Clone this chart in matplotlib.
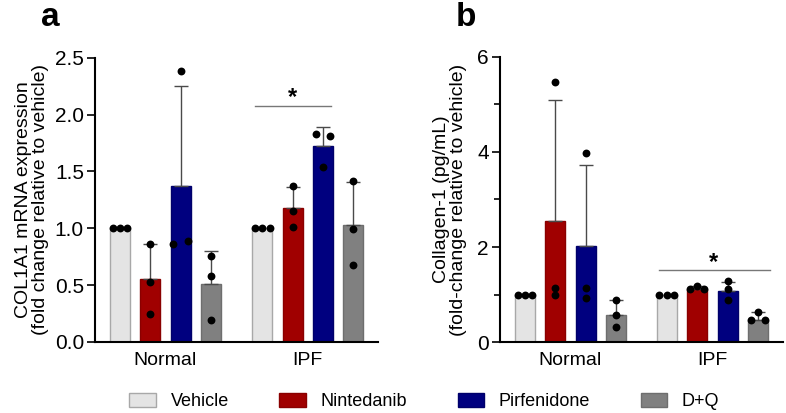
import numpy as np
import matplotlib.pyplot as plt
from matplotlib.patches import Patch
from matplotlib.ticker import MultipleLocator

plt.rcParams['font.family'] = ['Liberation Sans', 'DejaVu Sans']

groups = ["Normal", "IPF"]
treatments = ["Vehicle", "Nintedanib", "Pirfenidone", "D+Q"]
colors = ["#e4e4e4", "#a00000", "#00007f", "#808080"]
edges = ["#a8a8a8", "#8a0000", "#00006a", "#6e6e6e"]

# panel a: COL1A1 mRNA (group x treatment)
col1a1_mean = [[1.0, 0.55, 1.37, 0.51],
               [1.0, 1.18, 1.72, 1.03]]
col1a1_err = [[0.0, 0.31, 0.88, 0.29],
              [0.0, 0.18, 0.17, 0.38]]
col1a1_pts = [[[1.0, 1.0, 1.0], [0.86, 0.53, 0.25], [2.38, 0.86, 0.89], [0.76, 0.58, 0.19]],
              [[1.0, 1.0, 1.0], [1.37, 1.15, 1.01], [1.83, 1.81, 1.54], [1.42, 0.99, 0.68]]]

# panel b: Collagen-1 protein
coll_mean = [[1.0, 2.55, 2.02, 0.58],
             [1.0, 1.13, 1.08, 0.48]]
coll_err = [[0.0, 2.54, 1.71, 0.30],
            [0.0, 0.05, 0.19, 0.16]]
coll_pts = [[[1.0, 1.0, 1.0], [5.47, 1.15, 1.0], [3.98, 1.15, 0.94], [0.88, 0.57, 0.32]],
            [[1.0, 1.0, 1.0], [1.12, 1.18, 1.12], [1.28, 1.12, 0.88], [0.64, 0.47, 0.47]]]


def swarm(vals, ytol):
    # points close in y get spread sideways (left / centre / right)
    vals = np.asarray(vals)
    order = np.argsort(vals, kind='stable')
    offs = np.zeros(len(vals))
    clusters = [[order[0]]]
    for i in order[1:]:
        if abs(vals[i] - vals[clusters[-1][-1]]) < ytol:
            clusters[-1].append(i)
        else:
            clusters.append([i])
    for c in clusters:
        c = sorted(c)
        if len(c) == 2:
            pos = [-1, 1]
        elif len(c) == 3:
            pos = [-1, 0, 1]
        else:
            pos = [0]
        for i, p in zip(c, pos):
            offs[i] = p
    return offs


def panel(ax, means, errs, pts, gap, ytol, ylim):
    for g in range(2):
        for t in range(4):
            x = g * gap + t
            ax.bar(x, means[g][t], width=0.66, color=colors[t], edgecolor=edges[t],
                   linewidth=1.0, zorder=2)
            if errs[g][t] > 0:
                ax.errorbar(x, means[g][t], yerr=[[0], [errs[g][t]]], fmt='none',
                            ecolor="#4a4a4a", elinewidth=1.0, capsize=5, capthick=1.0, zorder=3)
            offs = swarm(pts[g][t], ytol)
            ax.scatter(x + offs * 0.24, pts[g][t], s=32, color="black", zorder=4,
                       linewidths=0)
    ax.set_xticks([1.5, gap + 1.5])
    ax.set_xticklabels(groups, fontsize=14)
    ax.tick_params(axis='x', length=0, pad=7)
    ax.tick_params(axis='y', labelsize=15, length=6, width=1.2, direction='out', pad=2)
    ax.set_ylim(*ylim)
    ax.set_xlim(-0.82, gap + 3.82)
    for s in ["top", "right"]:
        ax.spines[s].set_visible(False)
    for s in ["left", "bottom"]:
        ax.spines[s].set_linewidth(1.5)


fig = plt.figure(figsize=(7.86, 4.13), dpi=100)
ax1 = fig.add_axes([0.121, 0.172, 0.36, 0.688])
ax2 = fig.add_axes([0.636, 0.171, 0.36, 0.692])

panel(ax1, col1a1_mean, col1a1_err, col1a1_pts, 4.7, 0.06, (0, 2.5))
ax1.yaxis.set_major_locator(MultipleLocator(0.5))
ax1.yaxis.set_major_formatter(plt.FormatStrFormatter('%.1f'))
ax1.set_ylabel("COL1A1 mRNA expression\n(fold change relative to vehicle)", fontsize=14,
               linespacing=1.0, labelpad=4)
ax1.plot([4.45, 6.95], [2.08, 2.08], color="#777777", lw=1.0, clip_on=False)
ax1.text(5.7, 2.15, "*", ha='center', va='center', fontsize=17, fontweight='bold')

panel(ax2, coll_mean, coll_err, coll_pts, 4.67, 0.13, (0, 6))
ax2.yaxis.set_major_locator(MultipleLocator(2))
ax2.yaxis.set_minor_locator(MultipleLocator(1))
ax2.tick_params(axis='y', which='minor', length=4, width=1.2)
ax2.set_ylabel("Collagen-1 (pg/mL)\n(fold-change relative to vehicle)", fontsize=14,
               linespacing=1.0, labelpad=7)
ax2.plot([4.42, 8.07], [1.52, 1.52], color="#777777", lw=1.0, clip_on=False)
ax2.text(6.2, 1.68, "*", ha='center', va='center', fontsize=17, fontweight='bold')

fig.text(0.064, 0.936, "a", fontsize=24, fontweight='bold', ha='center', va='baseline')
fig.text(0.593, 0.936, "b", fontsize=24, fontweight='bold', ha='center', va='baseline')

handles = [Patch(facecolor=c, edgecolor=e, linewidth=1.0) for c, e in zip(colors, edges)]
fig.legend(handles, treatments, loc='center', bbox_to_anchor=(0.54, 0.027), ncol=4,
           frameon=False, fontsize=13, handlelength=1.45, handleheight=0.78,
           columnspacing=2.8, handletextpad=0.83)

fig.savefig("out.png", dpi=100)
